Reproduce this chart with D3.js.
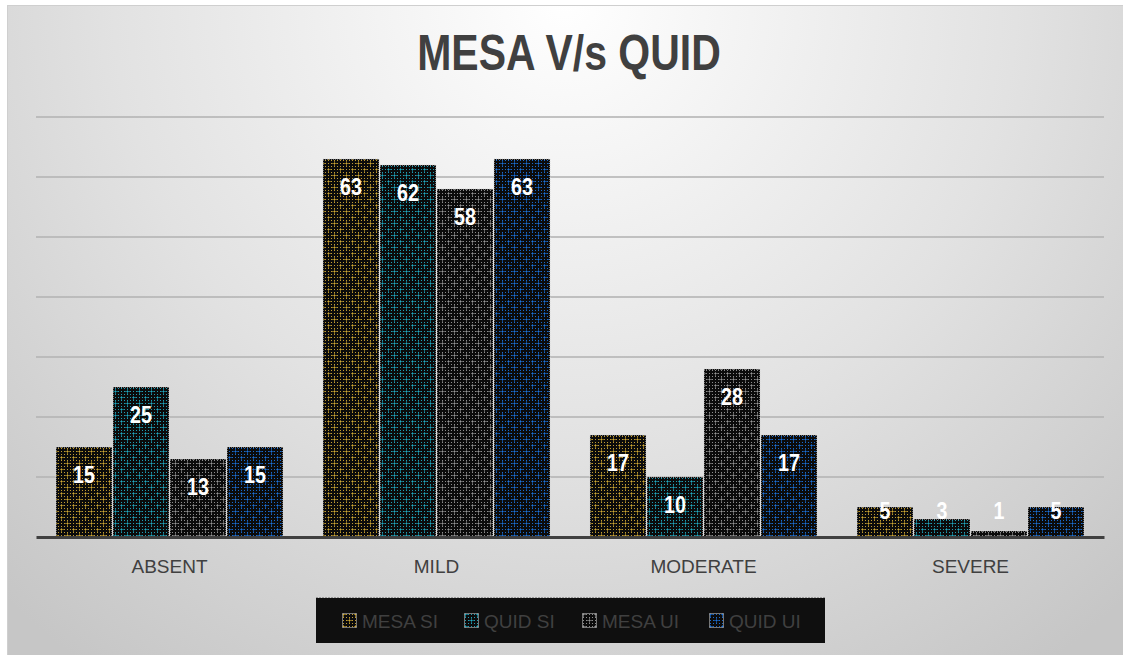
<!DOCTYPE html>
<html>
<head>
<meta charset="utf-8">
<script src="https://cdn.jsdelivr.net/npm/d3@7"></script>
<style>
  body { margin: 0; background: #fff; }
  svg { display: block; }
</style>
</head>
<body>
<svg id="chart" width="1123" height="655"></svg>
<script>
// 1: DATA
const categories = ["ABSENT", "MILD", "MODERATE", "SEVERE"];
const seriesNames = ["MESA SI", "QUID SI", "MESA UI", "QUID UI"];
const mesaSI = [15, 63, 17, 5];
const quidSI = [25, 62, 10, 3];
const mesaUI = [13, 58, 28, 1];
const quidUI = [15, 63, 17, 5];
const yTicks = [0, 10, 20, 30, 40, 50, 60, 70];

const seriesValues = [mesaSI, quidSI, mesaUI, quidUI];
const seriesColors = ["#d4ab35", "#22adc6", "#9a9a9a", "#1c74e0"];

// 2: LAYOUT
const W = 1123, H = 655;
const plot = { left: 36, right: 1104, top: 117, bottom: 537 };
const narrow = 0.82; // horizontal squeeze to mimic the condensed face

const svg = d3.select("#chart");
const defs = svg.append("defs");

// background gradient (light at the top centre, grey towards the edges)
const bg = defs.append("radialGradient")
    .attr("id", "bgGrad")
    .attr("gradientUnits", "userSpaceOnUse")
    .attr("cx", 565).attr("cy", 0).attr("r", 820);
bg.append("stop").attr("offset", 0).attr("stop-color", "#ffffff");
bg.append("stop").attr("offset", 0.55).attr("stop-color", "#e2e2e2");
bg.append("stop").attr("offset", 1).attr("stop-color", "#c6c6c6");

// dotted patterns for the bars
seriesColors.forEach((c, i) => {
    const p = defs.append("pattern")
        .attr("id", "pat" + i)
        .attr("patternUnits", "userSpaceOnUse")
        .attr("width", 12).attr("height", 12);
    p.append("rect").attr("width", 12).attr("height", 12).attr("fill", "#0b0b0b");
    for (let x = 0; x < 12; x += 3) {
        for (let y = 0; y < 12; y += 3) {
            p.append("rect").attr("x", x + 1).attr("y", y + 1)
                .attr("width", 1).attr("height", 1)
                .attr("fill", c).attr("opacity", 0.9);
        }
    }
    // small crosses
    [[1, 1], [7, 7]].forEach(([cx, cy]) => {
        p.append("rect").attr("x", cx - 2).attr("y", cy).attr("width", 5).attr("height", 1).attr("fill", c).attr("opacity", 0.6);
        p.append("rect").attr("x", cx).attr("y", cy - 2).attr("width", 1).attr("height", 5).attr("fill", c).attr("opacity", 0.6);
    });
});

svg.append("rect")
    .attr("x", 7.5).attr("y", 5.5)
    .attr("width", W - 7).attr("height", H - 5)
    .attr("fill", "url(#bgGrad)")
    .attr("stroke", "#cfcfcf");

// 3: SCALES
const x0 = d3.scaleBand()
    .domain(categories)
    .range([plot.left, plot.right]);

const gap = x0.bandwidth() * 0.073;
const x1 = d3.scaleBand()
    .domain(seriesNames)
    .range([gap, x0.bandwidth() - gap]);

const y = d3.scaleLinear()
    .domain([0, 70])
    .range([plot.bottom, plot.top]);

// gridlines
svg.append("g")
    .selectAll("line")
    .data(yTicks.filter(t => t > 0))
    .join("line")
    .attr("x1", plot.left).attr("x2", plot.right)
    .attr("y1", d => y(d)).attr("y2", d => y(d))
    .attr("stroke", "#b4b4b4")
    .attr("stroke-opacity", 0.8)
    .attr("stroke-width", 2);

// 4: BARS
const groups = svg.append("g")
    .selectAll("g")
    .data(categories)
    .join("g")
    .attr("transform", d => `translate(${x0(d)},0)`);

const cells = groups.selectAll("g")
    .data((c, ci) => seriesNames.map((s, si) => ({ s, si, v: seriesValues[si][ci] })))
    .join("g");

cells.append("rect")
    .attr("x", d => x1(d.s) + 0.5)
    .attr("y", d => y(d.v))
    .attr("width", x1.bandwidth() - 1)
    .attr("height", d => y(0) - y(d.v))
    .attr("fill", d => `url(#pat${d.si})`)
    .attr("stroke", "#d8d8d8")
    .attr("stroke-width", 1)
    .attr("stroke-dasharray", "1,1");

cells.append("text")
    .attr("transform", d => `translate(${x1(d.s) + x1.bandwidth() / 2},${Math.min(y(d.v) + 36, y(0) - 18)}) scale(${narrow},1)`)
    .attr("text-anchor", "middle")
    .attr("fill", "#ffffff")
    .attr("font-family", "Liberation Sans, Arial, sans-serif")
    .attr("font-weight", "bold")
    .attr("font-size", 24)
    .text(d => d.v);

// 5: AXIS
const xAxis = svg.append("g")
    .attr("transform", `translate(0,${plot.bottom})`)
    .call(d3.axisBottom(x0).tickSize(0).tickPadding(23));
xAxis.select(".domain")
    .attr("stroke", "#404040")
    .attr("stroke-width", 3);
xAxis.selectAll("text")
    .attr("fill", "#404040")
    .attr("font-family", "Liberation Sans, Arial, sans-serif")
    .attr("font-size", 19);

// 6: TITLE
svg.append("text")
    .attr("transform", `translate(569,70) scale(${narrow},1)`)
    .attr("text-anchor", "middle")
    .attr("fill", "#404040")
    .attr("font-family", "Liberation Sans, Arial, sans-serif")
    .attr("font-weight", "bold")
    .attr("font-size", 50)
    .text("MESA V/s QUID");

// 7: LEGEND
const legend = svg.append("g");
legend.append("rect")
    .attr("x", 316).attr("y", 598)
    .attr("width", 509).attr("height", 45)
    .attr("fill", "#0f0f0f");
legend.append("line")
    .attr("x1", 316).attr("x2", 825)
    .attr("y1", 597.5).attr("y2", 597.5)
    .attr("stroke", "#999")
    .attr("stroke-dasharray", "2,1");

const legendX = [342, 464, 582, 709];
const items = legend.selectAll("g.item")
    .data(seriesNames)
    .join("g")
    .attr("class", "item")
    .attr("transform", (d, i) => `translate(${legendX[i]},613)`);

items.append("rect")
    .attr("x", 0.5).attr("y", 0.5)
    .attr("width", 14).attr("height", 14)
    .attr("fill", (d, i) => `url(#pat${i})`)
    .attr("stroke", "#e0e0e0")
    .attr("stroke-dasharray", "1,1");

items.append("text")
    .attr("x", 20)
    .attr("y", 15)
    .attr("fill", "#404040")
    .attr("font-family", "Liberation Sans, Arial, sans-serif")
    .attr("font-size", 19)
    .text(d => d);
</script>
</body>
</html>
